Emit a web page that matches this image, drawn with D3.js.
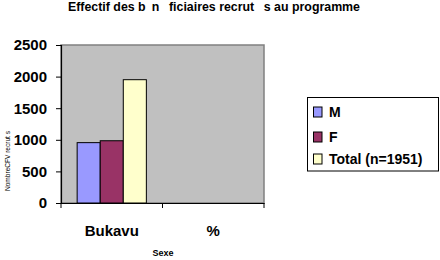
<!DOCTYPE html>
<html>
<head>
<meta charset="utf-8">
<script src="https://cdn.jsdelivr.net/npm/d3@7"></script>
<style>
body { margin: 0; background: #fff; }
text { font-family: "Liberation Sans", Arial, sans-serif; }
</style>
</head>
<body>
<div id="draw"></div>
<script>
// donnees
var categories = ["Bukavu", "%"];
var series = ["M", "F", "Total (n=1951)"];
var valM = [955, null];
var valF = [985, null];
var valTotal = [1951, null];
var colors = ["#9999FF", "#993366", "#FFFFCC"];
var yTicks = [0, 500, 1000, 1500, 2000, 2500];

var w = 440, h = 260;
var pLeft = 61, pRight = 264, pTop = 45, pBottom = 203;   //zone du graphique

var svg = d3.select("#draw").append("svg")
    .attr("width", w)
    .attr("height", h);

var x = d3.scaleBand().domain(categories).range([pLeft, pRight]);
var x1 = d3.scaleBand().domain(series).range([0, x.bandwidth()]).paddingOuter(0.7);
var y = d3.scaleLinear().domain([0, 2500]).range([pBottom, pTop]);

//fond gris
svg.append("rect")
    .attr("x", pLeft).attr("y", pTop)
    .attr("width", pRight - pLeft).attr("height", pBottom - pTop)
    .attr("fill", "#C0C0C0")
    .attr("stroke", "#808080")
    .attr("stroke-width", 1.5);

//barres
var rows = [];
categories.forEach(function(c, i) {
    [valM, valF, valTotal].forEach(function(arr, j) {
        if (arr[i] != null) rows.push({cat: c, s: series[j], v: arr[i], k: j});
    });
});

svg.selectAll("rect.bar")
    .data(rows)
    .enter()
    .append("rect")
    .attr("class", "bar")
    .attr("x", function(d) { return x(d.cat) + x1(d.s); })
    .attr("y", function(d) { return y(d.v); })
    .attr("width", x1.bandwidth())
    .attr("height", function(d) { return pBottom - y(d.v); })
    .attr("fill", function(d) { return colors[d.k]; })
    .attr("stroke", "#000")
    .attr("stroke-width", 1);

//axe y
var yAxis = svg.append("g")
    .attr("transform", "translate(" + pLeft + ",0)")
    .call(d3.axisLeft(y).tickValues(yTicks).tickFormat(d3.format("d")).tickSize(5).tickPadding(9));
yAxis.select(".domain").attr("stroke", "#000").attr("stroke-width", 1.2);
yAxis.selectAll("line").attr("stroke", "#000");
yAxis.selectAll("text")
    .attr("font-size", "15px")
    .attr("font-weight", "bold")
    .attr("font-family", "Liberation Sans, Arial, sans-serif")
    .attr("fill", "#000");

//axe x
var xAxis = svg.append("g")
    .attr("transform", "translate(0," + pBottom + ")")
    .call(d3.axisBottom(x).tickSize(0).tickPadding(22));
xAxis.select(".domain").attr("stroke", "#000").attr("stroke-width", 1.2);
xAxis.selectAll("text")
    .attr("font-size", "15px")
    .attr("font-weight", "bold")
    .attr("font-family", "Liberation Sans, Arial, sans-serif")
    .attr("fill", "#000");
//ticks entre categories
var bounds = categories.map(function(c) { return x(c); }).concat([pRight]);
svg.selectAll("line.xt")
    .data(bounds)
    .enter()
    .append("line")
    .attr("class", "xt")
    .attr("x1", function(d) { return d; })
    .attr("x2", function(d) { return d; })
    .attr("y1", pBottom)
    .attr("y2", pBottom + 5)
    .attr("stroke", "#000");

//titres
svg.append("text")
    .attr("x", 214).attr("y", 11)
    .attr("text-anchor", "middle")
    .attr("font-size", "12.5px")
    .attr("font-weight", "bold")
    .attr("textLength", 292)
    .attr("lengthAdjust", "spacingAndGlyphs")
    .text("Effectif des b\u2002n\u2002 ficiaires recrut\u2002 s au programme");

svg.append("text")
    .attr("x", 163).attr("y", 256)
    .attr("text-anchor", "middle")
    .attr("font-size", "9px")
    .attr("font-weight", "bold")
    .text("Sexe");

svg.append("text")
    .attr("transform", "translate(10,161) rotate(-90)")
    .attr("text-anchor", "middle")
    .attr("font-size", "7.5px")
    .attr("textLength", 60)
    .attr("lengthAdjust", "spacingAndGlyphs")
    .text("NombreCFV recrut s");

//legende
var lg = svg.append("g");
lg.append("rect")
    .attr("x", 307.5).attr("y", 97.5)
    .attr("width", 131).attr("height", 73.5)
    .attr("fill", "#fff")
    .attr("stroke", "#000")
    .attr("stroke-width", 1);

var items = lg.selectAll("g.item")
    .data(series)
    .enter()
    .append("g")
    .attr("class", "item")
    .attr("transform", function(d, i) { return "translate(313," + [112, 137, 159][i] + ")"; });
items.append("rect")
    .attr("x", 0.5).attr("y", -5)
    .attr("width", 8.5).attr("height", 10)
    .attr("fill", function(d, i) { return colors[i]; })
    .attr("stroke", "#000");
items.append("text")
    .attr("x", 16).attr("y", 5)
    .attr("font-size", "14px")
    .attr("font-weight", "bold")
    .text(function(d) { return d; });
</script>
</body>
</html>
